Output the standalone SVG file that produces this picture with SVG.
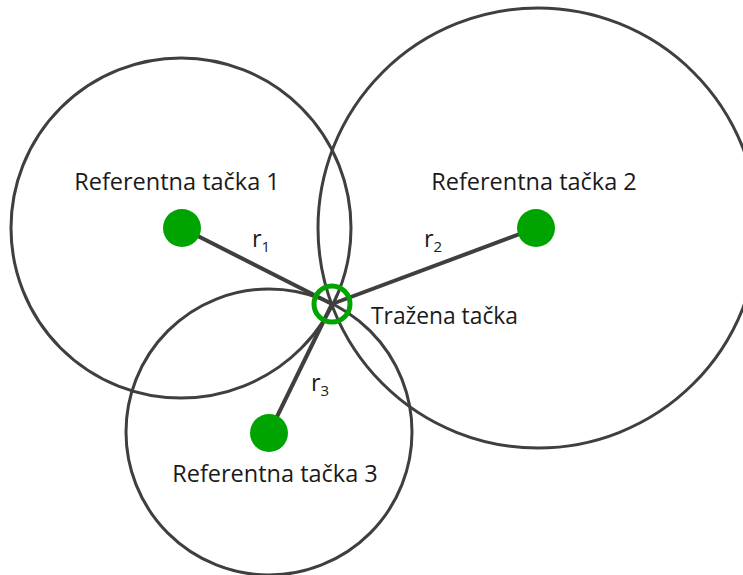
<svg xmlns="http://www.w3.org/2000/svg" width="743" height="575" viewBox="0 0 743 575">
<style>
.c{fill:none;stroke:#3f3f3f;stroke-width:3}
.l{stroke:#3f3f3f;stroke-width:4}
.d{fill:#00a400}
.t{font-family:"Open Sans","Liberation Sans",sans-serif;font-size:23.5px;fill:#1a1a1a}
.s{font-size:15px}
</style>
<rect width="743" height="575" fill="#fff"/>
<g id="circles">
<circle class="c" cx="181" cy="228" r="170"/>
<circle class="c" cx="538" cy="228" r="220"/>
<circle class="c" cx="269" cy="432" r="143"/>
</g>
<g id="connectors">
<line class="l" x1="182" y1="228" x2="332" y2="304"/>
<line class="l" x1="536" y1="228" x2="332" y2="304"/>
<line class="l" x1="269" y1="433" x2="332" y2="304"/>
</g>
<g id="p1"><circle class="d" cx="182" cy="228" r="19"/><text class="t" x="177" y="190" text-anchor="middle">Referentna tačka 1</text></g>
<g id="p2"><circle class="d" cx="536" cy="228" r="19"/><text class="t" x="534" y="190" text-anchor="middle">Referentna tačka 2</text></g>
<g id="p3"><circle class="d" cx="269" cy="433" r="19"/><text class="t" x="275" y="482" text-anchor="middle">Referentna tačka 3</text></g>
<g id="target"><circle cx="332" cy="304" r="18" fill="none" stroke="#00a400" stroke-width="5"/><text class="t" x="371" y="324" textLength="147" lengthAdjust="spacingAndGlyphs">Tražena tačka</text></g>
<g id="labels">
<text class="t" x="252" y="247">r<tspan class="s" dy="5">1</tspan></text>
<text class="t" x="424" y="247">r<tspan class="s" dy="5">2</tspan></text>
<text class="t" x="311" y="391">r<tspan class="s" dy="5">3</tspan></text>
</g>
</svg>
